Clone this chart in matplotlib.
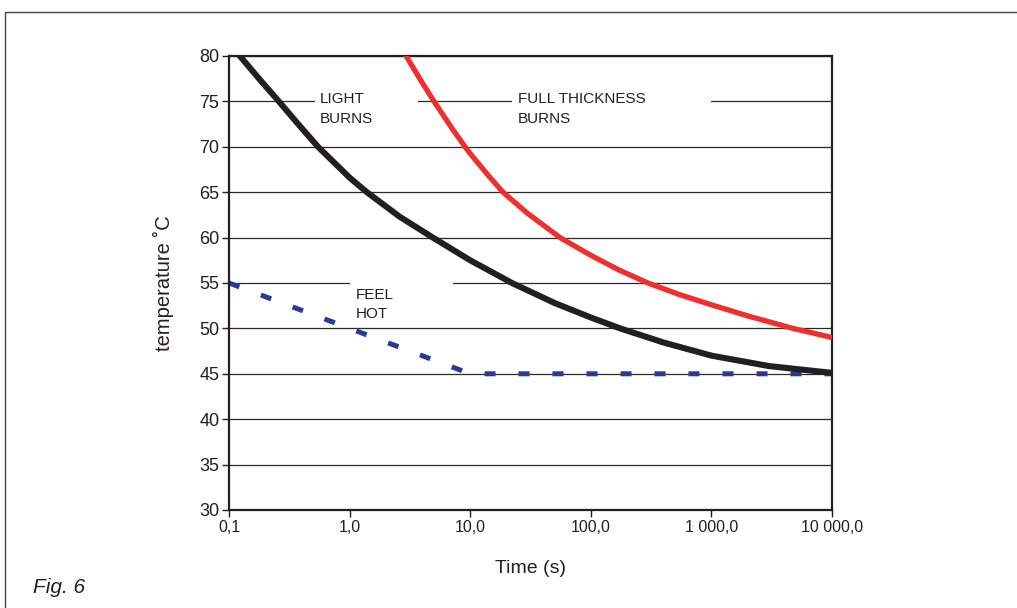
import matplotlib
matplotlib.use("Agg")
import matplotlib.pyplot as plt
from matplotlib.patches import Rectangle
from matplotlib.ticker import FixedLocator, FixedFormatter, NullLocator

plt.rcParams['font.family'] = ['Liberation Sans', 'DejaVu Sans']

# ---- data ----
light_t = [0.11, 0.123, 0.18, 0.259, 0.38, 0.547, 1.0, 1.39, 2.6, 4.9, 10.0, 22.2, 50.0, 100.0, 175.0, 400.0, 1000.0, 3000.0, 10000.0]
light_T = [80.8, 80.0, 77.4, 75.0, 72.4, 70.0, 66.6, 65.0, 62.3, 60.0, 57.5, 55.0, 52.8, 51.2, 50.0, 48.45, 47.0, 45.85, 45.1]

full_t = [2.7, 2.94, 3.98, 5.01, 7.0, 9.06, 10.0, 14.0, 18.7, 30.0, 55.6, 100.0, 170.0, 298.0, 550.0, 1000.0, 2000.0, 4750.0, 10000.0]
full_T = [80.8, 80.0, 77.1, 75.0, 72.1, 70.0, 69.25, 66.9, 65.0, 62.65, 60.0, 58.05, 56.45, 55.0, 53.7, 52.6, 51.38, 50.0, 49.0]

hot_t = [0.1, 1.0, 10.0, 10000.0]
hot_T = [55.0, 50.0, 45.0, 45.0]

xticks = [0.1, 1, 10, 100, 1000, 10000]
xtick_labels = ["0,1", "1,0", "10,0", "100,0", "1 000,0", "10 000,0"]
yticks = [30, 35, 40, 45, 50, 55, 60, 65, 70, 75, 80]

fig = plt.figure(figsize=(10.17, 6.08), dpi=100)
ax = fig.add_axes([0.2252, 0.1612, 0.5929, 0.7467])

ax.set_xscale('log')
ax.set_xlim(0.1, 10000)
ax.set_ylim(30, 80)

for y in yticks[1:]:
    ax.axhline(y, color='#2a2a2a', lw=0.9, zorder=0.5)

# white gaps behind the labels
for (x0, x1, y0, y1) in [(0.516, 3.69, 72.0, 76.5), (22.2, 993.0, 72.0, 76.5), (1.0, 7.2, 52.0, 56.5)]:
    ax.add_patch(Rectangle((x0, y0), x1 - x0, y1 - y0, facecolor='white', edgecolor='none', zorder=1))

ax.plot(light_t, light_T, color='#231F20', lw=4.4, zorder=3, solid_capstyle='butt', solid_joinstyle='round')
ax.plot(full_t, full_T, color='#EE2E2F', lw=3.8, zorder=3, solid_capstyle='butt', solid_joinstyle='round')
ax.plot(hot_t, hot_T, color='#2B3990', lw=3.6, zorder=2, linestyle=(0, (2.2, 4.6)), dash_capstyle='butt')

txt_kw = dict(fontsize=11, color='#231F20', va='top', ha='left', linespacing=1.5, zorder=4)
ax.text(0.569, 76.0, "LIGHT\nBURNS", **txt_kw)
ax.text(24.9, 76.0, "FULL THICKNESS\nBURNS", **txt_kw)
ax.text(1.13, 54.5, "FEEL\nHOT", **txt_kw)

ax.xaxis.set_major_locator(FixedLocator(xticks))
ax.xaxis.set_major_formatter(FixedFormatter(xtick_labels))
ax.xaxis.set_minor_locator(NullLocator())
ax.set_yticks(yticks)
ax.tick_params(axis='both', direction='out', length=5, width=1, color='#231F20',
               labelcolor='#231F20', pad=2)
ax.tick_params(axis='x', labelsize=11.5)
ax.tick_params(axis='y', labelsize=13)

for s in ax.spines.values():
    s.set_linewidth(1.6)
    s.set_color('#231F20')

ax.set_xlabel("Time (s)", fontsize=14, color='#231F20', labelpad=18)
ax.set_ylabel("temperature ˚C", fontsize=14.5, color='#231F20', labelpad=18)

fig.text(0.032, 0.025, "Fig. 6", fontsize=15, style='italic', color='#231F20')

# outer frame
fig.add_artist(Rectangle((0.0045, -0.2), 1.2, 1.18, transform=fig.transFigure, fill=False,
                         edgecolor='#444444', lw=1.0, clip_on=False))

fig.savefig("out.png", dpi=100)
